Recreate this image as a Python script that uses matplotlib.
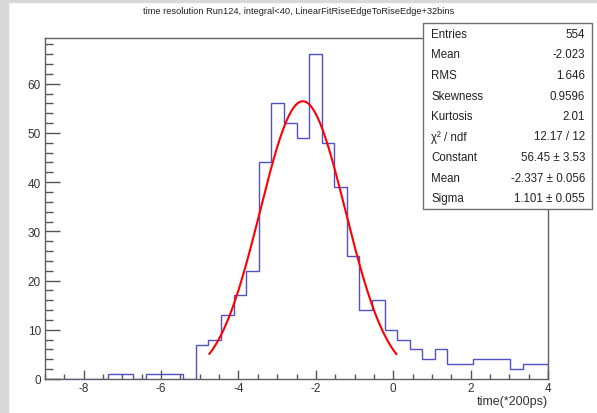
import numpy as np
import matplotlib
matplotlib.use("Agg")
import matplotlib.pyplot as plt
from matplotlib.patches import Rectangle
from matplotlib.ticker import MultipleLocator

plt.rcParams['font.family'] = ['Liberation Sans', 'DejaVu Sans']
plt.rcParams['axes.unicode_minus'] = False

# histogram: 40 bins from -9 to 4
x_min, x_max, n_bins = -9.0, 4.0, 40
counts = [0, 0, 0, 0, 0, 1, 1, 0, 1, 1,
          1, 0, 7, 8, 13, 17, 22, 44, 56, 52,
          49, 66, 48, 39, 25, 14, 16, 10, 8, 6,
          4, 6, 3, 3, 4, 4, 4, 2, 3, 3]

# gaussian fit result
fit_const, fit_mean, fit_sigma = 56.45, -2.337, 1.101
fit_lo, fit_hi = -4.75, 0.08

title = "time resolution Run124, integral<40, LinearFitRiseEdgeToRiseEdge+32bins"
stat_names = ["Entries", "Mean", "RMS", "Skewness", "Kurtosis",
              "χ² / ndf", "Constant", "Mean", "Sigma"]
stat_values = ["554", "-2.023", "1.646", "0.9596", "2.01",
               "12.17 / 12", "56.45 ± 3.53", "-2.337 ± 0.056", "1.101 ± 0.055"]

W, H = 597, 414
fig = plt.figure(figsize=(W / 100, H / 100), dpi=100)
fig.patch.set_facecolor('white')

# grey canvas border (left and top)
fig.patches.append(Rectangle((0, 0), 7.5 / W, 1, transform=fig.transFigure,
                             color='#d9d9d9', zorder=0))
fig.patches.append(Rectangle((0, 1 - 3 / H), 1, 3 / H, transform=fig.transFigure,
                             color='#d9d9d9', zorder=0))

ax = fig.add_axes([45 / W, 1 - 380 / H, (548 - 45) / W, (380 - 39) / H])
edges = np.linspace(x_min, x_max, n_bins + 1)
ax.stairs(counts, edges, color='#5050c8', linewidth=1.0, baseline=0)

xf = np.linspace(fit_lo, fit_hi, 200)
yf = fit_const * np.exp(-0.5 * ((xf - fit_mean) / fit_sigma) ** 2)
ax.plot(xf, yf, color='red', linewidth=1.5)

ax.set_xlim(x_min, x_max)
ax.set_ylim(0, max(counts) * 1.05)

ax.xaxis.set_major_locator(MultipleLocator(2))
ax.xaxis.set_minor_locator(MultipleLocator(0.5))
ax.yaxis.set_major_locator(MultipleLocator(10))
ax.yaxis.set_minor_locator(MultipleLocator(2))
ax.tick_params(axis='x', which='major', direction='in', length=6.5, width=1.0,
               color='#555555', labelsize=8.5, labelcolor='#333333', pad=2)
ax.tick_params(axis='x', which='minor', direction='in', length=3.5, width=1.0,
               color='#555555')
ax.tick_params(axis='y', which='major', direction='in', length=10.5, width=1.0,
               color='#555555', labelsize=8.5, labelcolor='#333333', pad=3)
ax.tick_params(axis='y', which='minor', direction='in', length=5.5, width=1.0,
               color='#555555')
for s in ax.spines.values():
    s.set_color('#606060')
    s.set_linewidth(1.0)

ax.set_xlabel("time(*200ps)", fontsize=9, loc='right', labelpad=1, color='#333333')

fig.text(299 / W, 1 - 11 / H, title, ha='center', va='center', fontsize=6.7,
         color='#222222')

# stats box
bx0, bx1, by0, by1 = 423, 592, 24, 210
fig.patches.append(Rectangle((bx0 / W, 1 - by1 / H), (bx1 - bx0) / W, (by1 - by0) / H,
                             transform=fig.transFigure, facecolor='white',
                             edgecolor='#707070', linewidth=1.0, zorder=5))
y0, dy = 35, 20.5
for i, (n, v) in enumerate(zip(stat_names, stat_values)):
    yy = 1 - (y0 + i * dy) / H
    fig.text(431 / W, yy, n, ha='left', va='center', fontsize=8.3, zorder=6,
             color='#222222')
    fig.text(585 / W, yy, v, ha='right', va='center', fontsize=8.3, zorder=6,
             color='#222222')

fig.savefig("out.png", dpi=100)
